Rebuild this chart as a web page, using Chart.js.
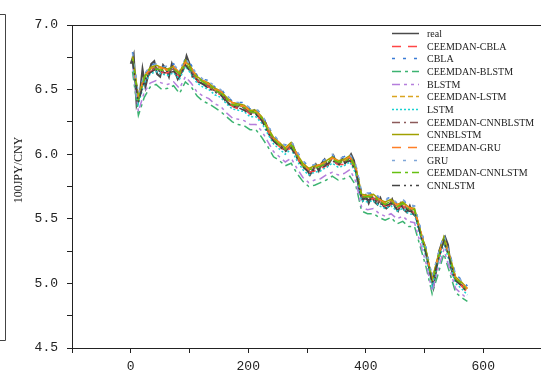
<!DOCTYPE html>
<html><head><meta charset="utf-8">
<script src="https://cdn.jsdelivr.net/npm/chart.js@4/dist/chart.umd.min.js"></script>
<style>html,body{margin:0;padding:0;overflow:hidden;background:#fff;width:541px;height:374px}
#wrap{position:absolute;left:0;top:0;width:560px;height:374px}</style>
</head><body><div id="wrap"><canvas id="c" width="560" height="374"></canvas></div>
<script>
// ---- data ----
const realDays = [0,5,10,15,20,25,30,35,40,45,50,55,60,65,70,75,80,85,90,95,100,105,110,115,120,125,130,135,140,145,150,155,160,165,170,175,180,185,190,195,200,205,210,215,220,225,230,235,240,245,250,255,260,265,270,275,280,285,290,295,300,305,310,315,320,325,330,335,340,345,350,355,360,365,370,375,380,385,390,395,400,405,410,415,420,425,430,435,440,445,450,455,460,465,470,475,480,485,490,495,500,505,510,515,520,525,530,535,540,545,550,555,560,565,570];
const real = [6.70,6.77,6.38,6.45,6.66,6.52,6.62,6.70,6.72,6.62,6.60,6.69,6.66,6.60,6.70,6.64,6.58,6.62,6.66,6.76,6.70,6.60,6.60,6.56,6.55,6.54,6.52,6.53,6.50,6.49,6.48,6.46,6.44,6.40,6.38,6.38,6.36,6.38,6.37,6.35,6.33,6.32,6.34,6.30,6.28,6.27,6.24,6.16,6.12,6.10,6.08,6.07,6.04,6.03,6.06,6.08,6.02,5.96,5.93,5.90,5.88,5.84,5.88,5.92,5.87,5.93,5.96,5.91,5.95,5.99,5.93,5.92,5.97,5.93,5.96,6.00,5.95,5.82,5.70,5.64,5.68,5.62,5.68,5.63,5.61,5.66,5.60,5.58,5.60,5.65,5.59,5.56,5.62,5.57,5.55,5.60,5.54,5.52,5.45,5.35,5.30,5.18,5.08,4.97,5.10,5.25,5.32,5.36,5.30,5.12,5.05,5.02,5.00,4.98,4.95];
const modelDays = [3,13,23,33,43,53,63,73,83,93,103,113,123,133,143,153,163,173,183,193,203,213,223,233,243,253,263,273,283,293,303,313,323,333,343,353,363,373,383,393,403,413,423,433,443,453,463,473,483,493,503,513,523,533,543,553,563,573];
const ceemdanCBLA = [6.72,6.43,6.57,6.64,6.66,6.63,6.63,6.65,6.60,6.69,6.64,6.57,6.54,6.52,6.48,6.46,6.41,6.37,6.35,6.35,6.31,6.30,6.26,6.18,6.10,6.06,6.02,6.05,5.97,5.90,5.86,5.87,5.89,5.91,5.95,5.92,5.92,5.95,5.87,5.68,5.64,5.66,5.62,5.60,5.61,5.58,5.60,5.56,5.55,5.40,5.24,5.02,5.17,5.32,5.20,5.04,4.98,4.93];
const cbla = [6.79,6.46,6.61,6.69,6.70,6.68,6.67,6.70,6.64,6.74,6.69,6.61,6.58,6.57,6.52,6.51,6.45,6.41,6.40,6.40,6.35,6.36,6.30,6.23,6.14,6.10,6.07,6.10,6.02,5.95,5.90,5.92,5.94,5.97,5.99,5.97,5.98,6.00,5.92,5.71,5.69,5.71,5.66,5.65,5.67,5.62,5.65,5.60,5.60,5.43,5.27,5.05,5.22,5.38,5.23,5.07,5.03,4.98];
const ceemdanBLSTM = [6.64,6.30,6.44,6.52,6.54,6.50,6.51,6.53,6.47,6.56,6.52,6.45,6.41,6.39,6.36,6.33,6.29,6.25,6.23,6.22,6.19,6.19,6.13,6.06,5.98,5.95,5.91,5.93,5.85,5.79,5.75,5.76,5.78,5.80,5.83,5.80,5.81,5.83,5.76,5.56,5.54,5.54,5.51,5.49,5.51,5.46,5.48,5.44,5.44,5.28,5.12,4.92,5.07,5.23,5.08,4.93,4.89,4.86];
const blstm = [6.70,6.33,6.48,6.55,6.57,6.55,6.54,6.56,6.51,6.60,6.55,6.48,6.45,6.43,6.39,6.37,6.32,6.28,6.27,6.26,6.23,6.23,6.18,6.10,6.02,5.98,5.94,5.97,5.89,5.82,5.78,5.80,5.81,5.84,5.86,5.84,5.85,5.88,5.79,5.59,5.57,5.58,5.54,5.52,5.54,5.50,5.52,5.48,5.47,5.31,5.15,4.94,5.11,5.26,5.11,4.96,4.92,4.88];
const ceemdanLSTM = [6.75,6.44,6.59,6.66,6.68,6.66,6.65,6.67,6.62,6.72,6.66,6.59,6.56,6.54,6.50,6.48,6.43,6.39,6.38,6.37,6.33,6.33,6.28,6.20,6.12,6.08,6.04,6.08,5.99,5.92,5.88,5.90,5.91,5.94,5.97,5.94,5.95,5.98,5.89,5.68,5.67,5.68,5.64,5.62,5.64,5.60,5.62,5.58,5.57,5.40,5.24,5.02,5.20,5.35,5.20,5.04,5.00,4.95];
const lstm = [6.71,6.39,6.55,6.62,6.64,6.62,6.61,6.63,6.58,6.68,6.62,6.55,6.52,6.50,6.46,6.44,6.39,6.35,6.34,6.33,6.29,6.29,6.24,6.16,6.08,6.04,6.00,6.04,5.95,5.88,5.84,5.86,5.87,5.90,5.93,5.90,5.91,5.94,5.85,5.64,5.63,5.64,5.60,5.58,5.60,5.56,5.58,5.54,5.53,5.36,5.20,4.98,5.16,5.31,5.16,5.00,4.96,4.91];
const ceemdanCNNBLSTM = [6.73,6.43,6.58,6.65,6.67,6.64,6.64,6.66,6.61,6.70,6.65,6.58,6.55,6.53,6.49,6.47,6.42,6.38,6.37,6.36,6.32,6.32,6.27,6.20,6.11,6.07,6.03,6.07,5.98,5.91,5.87,5.89,5.90,5.93,5.96,5.93,5.94,5.97,5.90,5.67,5.66,5.67,5.63,5.61,5.63,5.59,5.61,5.57,5.56,5.39,5.23,5.03,5.19,5.33,5.19,5.03,4.99,4.94];
const cnnBLSTM = [6.76,6.45,6.60,6.67,6.69,6.67,6.66,6.68,6.63,6.73,6.67,6.60,6.57,6.55,6.51,6.49,6.44,6.40,6.39,6.38,6.34,6.34,6.29,6.21,6.13,6.09,6.05,6.09,6.00,5.93,5.89,5.91,5.92,5.95,5.98,5.95,5.96,5.99,5.90,5.69,5.68,5.69,5.65,5.63,5.65,5.61,5.63,5.59,5.58,5.41,5.25,5.03,5.21,5.36,5.21,5.05,5.01,4.96];
const ceemdanGRU = [6.74,6.44,6.60,6.66,6.68,6.67,6.65,6.68,6.62,6.71,6.67,6.59,6.57,6.54,6.50,6.49,6.43,6.40,6.38,6.37,6.34,6.33,6.28,6.21,6.12,6.09,6.04,6.08,6.00,5.92,5.88,5.90,5.92,5.94,5.97,5.95,5.95,5.98,5.90,5.68,5.67,5.68,5.65,5.62,5.64,5.61,5.62,5.59,5.57,5.41,5.24,5.03,5.20,5.35,5.21,5.04,5.00,4.96];
const gru = [6.78,6.46,6.62,6.68,6.70,6.68,6.68,6.69,6.65,6.74,6.68,6.62,6.58,6.56,6.53,6.50,6.46,6.41,6.40,6.39,6.36,6.35,6.31,6.22,6.15,6.10,6.07,6.10,6.02,5.95,5.91,5.92,5.94,5.96,6.00,5.96,5.98,6.00,5.92,5.71,5.70,5.70,5.67,5.64,5.67,5.62,5.65,5.61,5.60,5.43,5.26,5.05,5.22,5.37,5.23,5.07,5.02,4.98];
const ceemdanCNNLSTM = [6.74,6.42,6.59,6.66,6.66,6.65,6.65,6.66,6.62,6.70,6.65,6.59,6.56,6.53,6.50,6.47,6.43,6.38,6.38,6.36,6.33,6.32,6.28,6.19,6.12,6.07,6.04,6.07,5.99,5.91,5.88,5.89,5.91,5.93,5.96,5.94,5.94,5.97,5.89,5.67,5.67,5.67,5.64,5.61,5.64,5.59,5.62,5.57,5.57,5.39,5.24,5.01,5.19,5.34,5.20,5.03,5.00,4.94];
const cnnLSTM = [6.72,6.40,6.57,6.63,6.66,6.63,6.63,6.64,6.60,6.69,6.63,6.57,6.54,6.51,6.48,6.46,6.40,6.37,6.36,6.34,6.31,6.31,6.26,6.17,6.10,6.06,6.02,6.05,5.97,5.90,5.86,5.88,5.88,5.92,5.95,5.92,5.93,5.95,5.87,5.66,5.65,5.65,5.62,5.60,5.62,5.58,5.60,5.56,5.55,5.38,5.22,5.00,5.18,5.33,5.18,5.02,4.98,4.93];
const xTickLabels = ['0','200','400','600'];
const yTickLabels = ['4.5','5.0','5.5','6.0','6.5','7.0'];
const yTitle = '100JPY/CNY';

// ---- series definitions (style) ----
const series = [
  {label:'real', days:realDays, vals:real, color:'#4a4a4a', dash:[], w:2},
  {label:'CEEMDAN-CBLA', days:modelDays, vals:ceemdanCBLA, color:'#ff4646', dash:[9,7], w:1.5},
  {label:'CBLA', days:modelDays, vals:cbla, color:'#3a7bd5', dash:[3,8], w:1.5},
  {label:'CEEMDAN-BLSTM', days:modelDays, vals:ceemdanBLSTM, color:'#3cb371', dash:[9,4,3,4], w:1.5},
  {label:'BLSTM', days:modelDays, vals:blstm, color:'#b57edc', dash:[8,4,3,4,3,4], w:1.5},
  {label:'CEEMDAN-LSTM', days:modelDays, vals:ceemdanLSTM, color:'#daa520', dash:[5,3], w:1.5},
  {label:'LSTM', days:modelDays, vals:lstm, color:'#1ad1d1', dash:[2,2], w:1.5},
  {label:'CEEMDAN-CNNBLSTM', days:modelDays, vals:ceemdanCNNBLSTM, color:'#8c5a5a', dash:[8,4,2,4], w:1.5},
  {label:'CNNBLSTM', days:modelDays, vals:cnnBLSTM, color:'#a0a000', dash:[], w:1.5},
  {label:'CEEMDAN-GRU', days:modelDays, vals:ceemdanGRU, color:'#ff7f27', dash:[9,7], w:1.5},
  {label:'GRU', days:modelDays, vals:gru, color:'#7fa6d8', dash:[3,8], w:1.5},
  {label:'CEEMDAN-CNNLSTM', days:modelDays, vals:ceemdanCNNLSTM, color:'#66c010', dash:[9,4,3,4], w:1.5},
  {label:'CNNLSTM', days:modelDays, vals:cnnLSTM, color:'#444444', dash:[8,4,2,4,2,4], w:1.5}
];

const N = series.length;
const datasets = series.map((s,i)=>({
  label:s.label,
  data:s.days.map((d,k)=>({x:d,y:s.vals[k]})),
  borderColor:s.color, backgroundColor:s.color,
  borderWidth:s.w, borderDash:s.dash, pointRadius:0, fill:false, tension:0,
  order:N-1-i
}));

const MONO = "'Liberation Mono', monospace";
const SERIF = "'Liberation Serif', serif";

const decor = {
  id:'decor',
  afterDraw(chart){
    const ctx = chart.ctx, a = chart.chartArea;
    ctx.save();
    ctx.strokeStyle = '#222'; ctx.lineWidth = 1; ctx.setLineDash([]);
    ctx.beginPath(); ctx.moveTo(a.left, Math.round(a.top)+0.5); ctx.lineTo(a.right, Math.round(a.top)+0.5); ctx.stroke();
    // neighbouring panel edge
    ctx.strokeStyle = '#444';
    ctx.beginPath(); ctx.moveTo(0,14.5); ctx.lineTo(5.5,14.5); ctx.lineTo(5.5,340.5); ctx.lineTo(0,340.5); ctx.stroke();
    // y title
    ctx.fillStyle = '#222'; ctx.font = '12px ' + SERIF;
    ctx.textAlign = 'center'; ctx.textBaseline = 'middle';
    ctx.translate(19,170); ctx.rotate(-Math.PI/2); ctx.fillText(yTitle,0,0);
    ctx.restore();
    // legend
    ctx.save();
    ctx.font = '10px ' + SERIF; ctx.textBaseline = 'middle'; ctx.textAlign = 'left';
    series.forEach((s,i)=>{
      const y = Math.round(33 + i*12.67) + 0.5;
      ctx.strokeStyle = s.color; ctx.lineWidth = 1.5; ctx.setLineDash(s.dash);
      ctx.beginPath(); ctx.moveTo(392,y); ctx.lineTo(419,y); ctx.stroke();
      ctx.fillStyle = '#222'; ctx.fillText(s.label, 427, y+0.5);
    });
    ctx.restore();
  }
};

new Chart(document.getElementById('c'), {
  type:'line',
  data:{datasets},
  options:{
    responsive:false, animation:false, devicePixelRatio:1,
    layout:{padding:{top:25,right:18,left:0,bottom:0}},
    plugins:{legend:{display:false}, tooltip:{enabled:false}},
    scales:{
      x:{type:'linear', min:-100, max:700,
        ticks:{stepSize:100, autoSkip:false, maxRotation:0, padding:6, color:'#222', font:{family:MONO,size:13},
          callback:(v)=>{const s=String(v); return xTickLabels.includes(s)?s:'';}},
        grid:{drawOnChartArea:false, drawTicks:true, tickLength:5, color:'#222'},
        border:{display:true, color:'#222', width:1},
        afterFit:(s)=>{s.height=26;}
      },
      y:{min:4.5, max:7.0,
        ticks:{stepSize:0.25, autoSkip:false, padding:9, color:'#222', font:{family:MONO,size:13},
          callback:(v)=>{const s=Number(v).toFixed(2); const t=Number(v).toFixed(1); return (s.endsWith('0') && yTickLabels.includes(t))?t:'';}},
        grid:{drawOnChartArea:false, drawTicks:true, tickLength:5, color:'#222'},
        border:{display:true, color:'#222', width:1},
        afterFit:(s)=>{s.width=72;}
      }
    }
  },
  plugins:[decor]
});
</script></body></html>
